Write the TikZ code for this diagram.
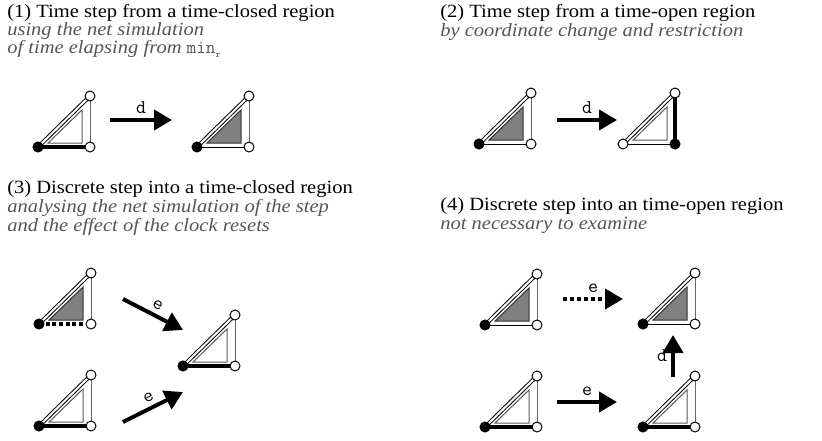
\documentclass[tikz,border=0pt]{standalone}
\usepackage{fontspec}
\setmainfont[FakeStretch=1.1]{Liberation Serif}
\usetikzlibrary{arrows.meta}
\definecolor{note}{HTML}{555555}
\definecolor{shade}{HTML}{808080}
\tikzset{
  hypo/.style={double,double distance=1.5pt,line width=0.75pt},
  openzone/.style={draw=black!65,fill=white,line width=0.75pt},
  shadedzone/.style={draw=black!80,fill=shade,line width=0.75pt},
  thinedge/.style={line width=0.75pt},
  greyedge/.style={draw=black!60,line width=0.75pt},
  heavyedge/.style={line width=2.4pt},
  dashedge/.style={line width=2.4pt,dash pattern=on 3pt off 2pt},
  bigarrow/.style={line width=3pt,-{Triangle[length=13.5pt,width=15pt]}},
  dotarrow/.style={bigarrow,dash pattern=on 3pt off 2.2pt},
  title/.style={anchor=base west,inner sep=0pt,font=\fontsize{14}{16}\selectfont},
  remark/.style={title,text=note,font=\fontsize{14}{16}\selectfont\itshape},
  lbl/.style={font=\fontsize{14.5}{16}\ttfamily,inner sep=2pt}
}
% #1 name, #2 bottom-left corner, #3 inner triangle, #4 bottom edge, #5 right edge, #6 filled corner
\newcommand{\zone}[6]{%
  \begin{scope}[shift={#2}]
    \coordinate (#1-bl) at (0,0);
    \coordinate (#1-br) at (52,0);
    \coordinate (#1-tr) at (52,-51);
    \draw[#3] (10,-4) -- (44,-4) -- (44,-37) -- cycle;
    \draw[hypo] (#1-bl) -- (#1-tr);
    \draw[#5] (#1-br) -- (#1-tr);
    \draw[#4] (#1-bl) -- (#1-br);
    \foreach \c in {bl,br,tr}
      \draw[fill=white,line width=0.75pt] (#1-\c) circle (3.75pt);
    \fill (#1-#6) circle (3.9pt);
  \end{scope}}
\begin{document}
\begin{tikzpicture}[x=0.75pt,y=-0.75pt]
\useasboundingbox (0,0) rectangle (822,440);
% (1)
\node[title] (t1) at (7,17) {(1) Time step from a time-closed region};
\node[remark] (t1a) at (7,35) {using the net simulation};
\node[remark] (t1b) at (7,53) {of time elapsing from \texttt{\upshape min}\raisebox{-0.5ex}{\fontsize{7}{8}\selectfont\ttfamily\upshape r}};
\zone{z1a}{(38,147)}{openzone}{heavyedge}{greyedge}{bl}
\zone{z1b}{(197,147)}{shadedzone}{thinedge}{greyedge}{bl}
\coordinate (a1s) at (110,120);
\coordinate (a1e) at (172,120);
\draw[bigarrow] (a1s) -- node[lbl,above=1pt] (l1) {d} (a1e);
% (2)
\node[title] (t2) at (440,17) {(2) Time step from a time-open region};
\node[remark] (t2a) at (440,36) {by coordinate change and restriction};
\zone{z2a}{(479,144)}{shadedzone}{thinedge}{greyedge}{bl}
\zone{z2b}{(623,144)}{openzone}{thinedge}{heavyedge}{br}
\coordinate (a2s) at (557,120);
\coordinate (a2e) at (617,120);
\draw[bigarrow] (a2s) -- node[lbl,above=1pt] (l2) {d} (a2e);
% (3)
\node[title] (t3) at (7,193) {(3) Discrete step into a time-closed region};
\node[remark] (t3a) at (7,212) {analysing the net simulation of the step};
\node[remark] (t3b) at (7,231) {and the effect of the clock resets};
\zone{z3a}{(39,324)}{shadedzone}{dashedge}{greyedge}{bl}
\zone{z3b}{(39,426)}{openzone}{heavyedge}{greyedge}{bl}
\zone{z3c}{(183,366)}{openzone}{heavyedge}{greyedge}{bl}
\coordinate (a3s) at (123,299);
\coordinate (a3e) at (183,330);
\coordinate (a3t) at (123,422);
\coordinate (a3u) at (183,392);
\draw[bigarrow] (a3s) -- node[lbl,sloped,above=1pt] (l3) {e} (a3e);
\draw[bigarrow] (a3t) -- node[lbl,sloped,above=1pt] (l3b) {e} (a3u);
% (4)
\node[title] (t4) at (440,210) {(4) Discrete step into an time-open region};
\node[remark] (t4a) at (440,229) {not necessary to examine};
\zone{z4a}{(485,325)}{shadedzone}{thinedge}{greyedge}{bl}
\zone{z4b}{(485,427)}{openzone}{heavyedge}{greyedge}{bl}
\zone{z4c}{(643,324)}{shadedzone}{thinedge}{greyedge}{bl}
\zone{z4d}{(643,427)}{openzone}{heavyedge}{greyedge}{bl}
\coordinate (a4s) at (563,299);
\coordinate (a4e) at (623,299);
\coordinate (a4t) at (557,402);
\coordinate (a4u) at (617,402);
\coordinate (a4v) at (673,377);
\coordinate (a4w) at (673,335);
\draw[dotarrow] (a4s) -- node[lbl,above=1pt] (l4) {e} (a4e);
\draw[bigarrow] (a4t) -- node[lbl,above=1pt] (l4b) {e} (a4u);
\draw[bigarrow] (a4v) -- node[lbl,left=1pt] (l4c) {d} (a4w);
\end{tikzpicture}
\end{document}
